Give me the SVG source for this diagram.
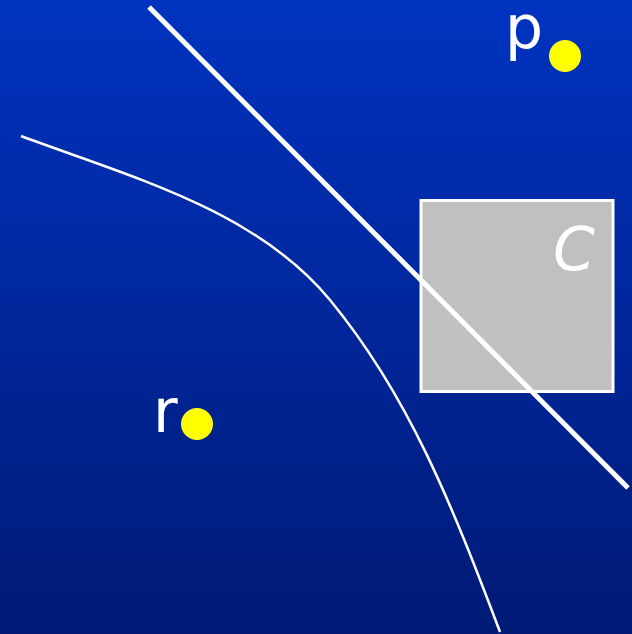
<svg xmlns="http://www.w3.org/2000/svg" width="632" height="634" viewBox="0 0 632 634">
  <defs>
    <linearGradient id="bg" x1="0" y1="0" x2="0" y2="1">
      <stop offset="0" stop-color="#0033C0"/>
      <stop offset="1" stop-color="#001A76"/>
    </linearGradient>
  </defs>
  <style>
    .lbl { font-family: "DejaVu Sans", "Noto Sans", sans-serif; font-size: 60px; fill: #FFFFFF; }
    .dot { fill: #FFFF00; }
    .wire { fill: none; stroke: #FFFFFF; stroke-linecap: butt; }
  </style>
  <rect x="0" y="0" width="632" height="634" fill="url(#bg)"/>
  <g id="curve-group">
    <path class="wire" stroke-width="2.5" d="M21,136 C131,177 256,210 330,300 C409,396 452,505 500,632"/>
  </g>
  <g id="C">
    <rect x="421" y="200.5" width="192" height="191" fill="#C0C0C0" stroke="#FFFFFF" stroke-width="3"/>
    <text class="lbl" x="553" y="270" font-style="italic">C</text>
  </g>
  <g id="connectors">
    <line class="wire" stroke-width="5" x1="149" y1="7" x2="628" y2="488"/>
  </g>
  <g id="p">
    <text class="lbl" x="505" y="48">p</text>
    <circle class="dot" cx="565" cy="56" r="16"/>
  </g>
  <g id="r">
    <text class="lbl" x="153" y="432">r</text>
    <circle class="dot" cx="197" cy="424" r="16"/>
  </g>
</svg>
